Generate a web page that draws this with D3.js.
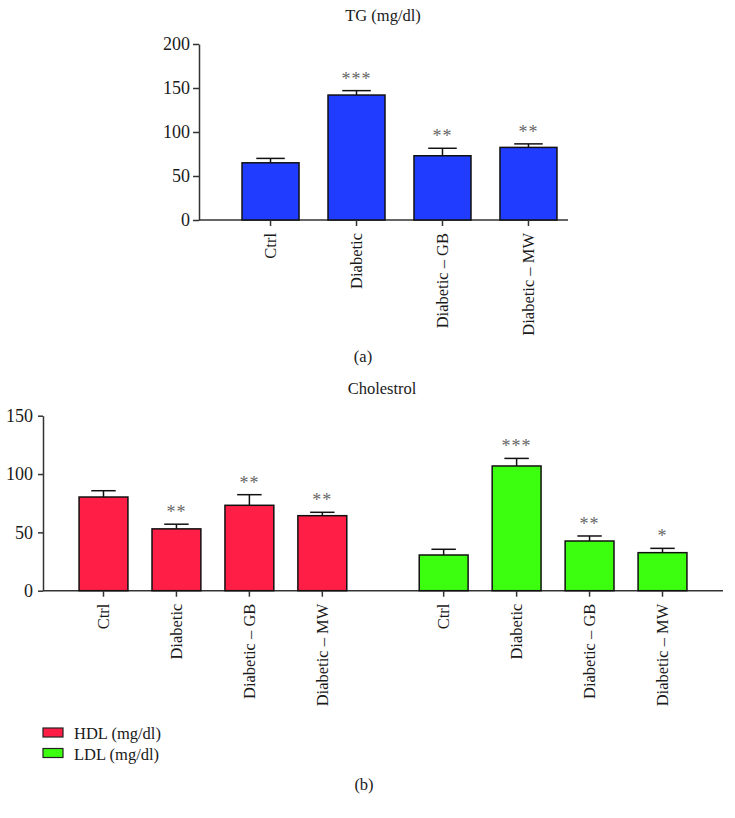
<!DOCTYPE html>
<html><head><meta charset="utf-8">
<script src="https://cdn.jsdelivr.net/npm/d3@7"></script>
<style>
body{margin:0;background:#fff;}
text{font-family:"Liberation Serif","DejaVu Serif",serif;fill:#1a1a1a;}
</style></head><body>
<svg id="c" width="735" height="818"></svg>
<script>
const categories = ["Ctrl","Diabetic","Diabetic – GB","Diabetic – MW"];
const tgMean = [65,142,73,82.5];
const tgErr  = [70,147,81.5,86.5];
const tgStars = ["","***","**","**"];
const hdlMean = [80.3,53,73.2,64.3];
const hdlErr  = [85.7,57,82.3,67.2];
const hdlStars = ["","**","**","**"];
const ldlMean = [30.6,106.9,42.6,32.6];
const ldlErr  = [35.5,113.4,46.9,36.3];
const ldlStars = ["","***","**","*"];
const tgTicks = [0,50,100,150,200];
const cholTicks = [0,50,100,150];
const seriesNames = ["HDL (mg/dl)","LDL (mg/dl)"];
const colors = {tg:"#1f3cff", hdl:"#ff1e46", ldl:"#3cff0f"};

const svg = d3.select("#c");
const axisColor = "#333";

function drawBars(g, x, y, means, errs, stars, fill){
  const bw = x.bandwidth();
  categories.forEach((c,i)=>{
    const cx = x(c)+bw/2;
    g.append("line").attr("x1",cx).attr("x2",cx).attr("y1",y(means[i])).attr("y2",y(errs[i]))
      .attr("stroke","#111").attr("stroke-width",1.5);
    g.append("line").attr("x1",cx-bw/4).attr("x2",cx+bw/4).attr("y1",y(errs[i])).attr("y2",y(errs[i]))
      .attr("stroke","#111").attr("stroke-width",1.5);
    g.append("rect").attr("x",x(c)).attr("y",y(means[i])).attr("width",bw)
      .attr("height",y(0)-y(means[i])).attr("fill",fill).attr("stroke","#111").attr("stroke-width",1.5);
    if(stars[i]) g.append("text").attr("x",cx).attr("y",y(errs[i])-6)
      .attr("text-anchor","middle").style("font-size","18px").style("fill","#666")
      .style("letter-spacing","1px").text(stars[i]);
  });
}

function xAxis(g, x, y0){
  const ax = g.append("g").attr("transform",`translate(0,${y0})`)
    .call(d3.axisBottom(x).tickSize(6).tickSizeOuter(0));
  ax.select(".domain").remove();
  ax.selectAll("line").attr("stroke",axisColor).attr("stroke-width",1.5);
  ax.selectAll("text").attr("transform","rotate(-90)").attr("text-anchor","end")
    .attr("x",-13).attr("y",0).attr("dy","0.35em").style("font-size","16.5px").style("fill","#1a1a1a");
}
function yAxis(g, y, x0, ticks, size, pad){
  const ax = g.append("g").attr("transform",`translate(${x0},0)`)
    .call(d3.axisLeft(y).tickValues(ticks).tickSize(size).tickPadding(pad).tickSizeOuter(0));
  ax.select(".domain").attr("stroke",axisColor).attr("stroke-width",1.5);
  ax.selectAll("line").attr("stroke",axisColor).attr("stroke-width",1.5);
  ax.selectAll("text").style("font-size","18px").style("fill","#1a1a1a");
}

// ---- Panel (a)
const ga = svg.append("g");
const ya = d3.scaleLinear().domain([0,200]).range([220,44]);
const xa = d3.scaleBand().domain(categories).range([227.5,571.5]).paddingInner(0.337).paddingOuter(0.169);
ga.append("line").attr("x1",199).attr("x2",568).attr("y1",ya(0)).attr("y2",ya(0)).attr("stroke",axisColor).attr("stroke-width",1.5);
drawBars(ga, xa, ya, tgMean, tgErr, tgStars, colors.tg);
xAxis(ga, xa, ya(0));
yAxis(ga, ya, 199, tgTicks, 6, 3);
ga.append("text").attr("x",383).attr("y",21).attr("text-anchor","middle").style("font-size","16.5px").text("TG (mg/dl)");
ga.append("text").attr("x",363).attr("y",362).attr("text-anchor","middle").style("font-size","16.5px").text("(a)");

// ---- Panel (b)
const gb = svg.append("g");
const yb = d3.scaleLinear().domain([0,150]).range([590.7,415.7]);
const xg = d3.scaleBand().domain(seriesNames).range([43,723]).paddingInner(0.213).paddingOuter(0.106);
gb.append("line").attr("x1",43).attr("x2",723).attr("y1",yb(0)).attr("y2",yb(0)).attr("stroke",axisColor).attr("stroke-width",1.5);
const groups = [
  {name:seriesNames[0], means:hdlMean, errs:hdlErr, stars:hdlStars, fill:colors.hdl},
  {name:seriesNames[1], means:ldlMean, errs:ldlErr, stars:ldlStars, fill:colors.ldl}
];
groups.forEach(gr=>{
  const x = d3.scaleBand().domain(categories).range([xg(gr.name), xg(gr.name)+xg.bandwidth()]).paddingInner(0.33).paddingOuter(0);
  const g = gb.append("g");
  drawBars(g, x, yb, gr.means, gr.errs, gr.stars, gr.fill);
  xAxis(g, x, yb(0));
});
yAxis(gb, yb, 43, cholTicks, 5, 5);
gb.append("text").attr("x",382).attr("y",394).attr("text-anchor","middle").style("font-size","16.5px").text("Cholestrol");

// legend
const lg = svg.append("g");
groups.forEach((gr,i)=>{
  lg.append("rect").attr("x",43).attr("y",728+i*20.5).attr("width",20).attr("height",9)
    .attr("fill",gr.fill).attr("stroke","#222").attr("stroke-width",1.2);
  lg.append("text").attr("x",74).attr("y",739+i*20.5).style("font-size","16.5px").text(gr.name);
});
svg.append("text").attr("x",364).attr("y",790).attr("text-anchor","middle").style("font-size","16.5px").text("(b)");
</script>
</body></html>
